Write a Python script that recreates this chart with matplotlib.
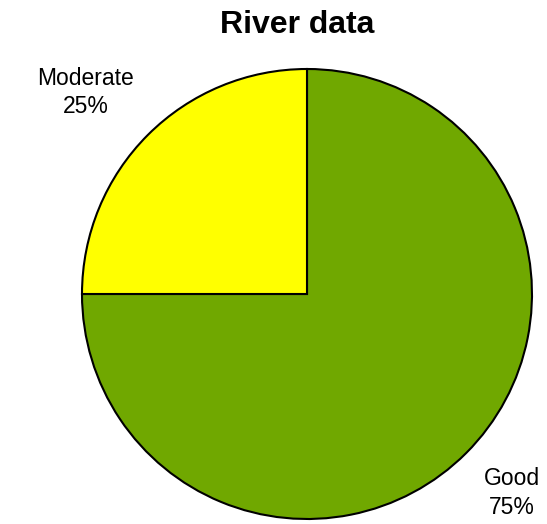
import matplotlib.pyplot as plt

plt.rcParams['font.family'] = ['Liberation Sans', 'DejaVu Sans']

categories = ['Good', 'Moderate']
values = [75, 25]
colors = ['#70A800', '#FFFF00']
# label centres in axes data units (pie radius = 1)
label_pos = [(0.911, -0.885), (-0.985, 0.895)]

fig = plt.figure(figsize=(5.47, 5.24), dpi=100)
# square axes, pie radius ~225 px, centre at (307, 294) from top-left
ax = fig.add_axes([(307 - 225) / 547, (524 - 294 - 225) / 524, 450 / 547, 450 / 524])

labels = [f"{c}\n{v}%" for c, v in zip(categories, values)]
wedges, texts = ax.pie(values, labels=labels, colors=colors, startangle=90,
                       counterclock=False, labeldistance=1.3,
                       wedgeprops=dict(edgecolor='black', linewidth=1.5),
                       textprops=dict(fontsize=16.5, linespacing=1.3))
for t, p in zip(texts, label_pos):
    t.set_position(p)
    t.set_ha('center')
    t.set_va('center')

ax.set_xlim(-1, 1)
ax.set_ylim(-1, 1)
ax.set_aspect('equal')

fig.text(297 / 547, 1 - 25 / 524, 'River data', ha='center', va='center',
         fontsize=23, fontweight='bold')

fig.savefig('out.png', dpi=100)
